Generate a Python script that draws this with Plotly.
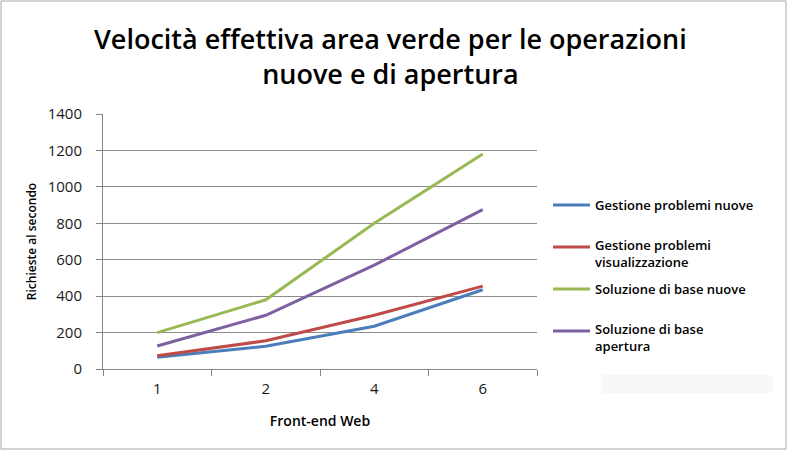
import plotly.graph_objects as go

categories = ["1", "2", "4", "6"]
series_names = ["Gestione problemi nuove", "Gestione problemi<br>visualizzazione",
                "Soluzione di base nuove", "Soluzione di base<br>apertura"]
gestione_nuove = [65, 125, 235, 435]
gestione_visual = [73, 155, 295, 455]
soluzione_nuove = [200, 380, 800, 1180]
soluzione_apertura = [126, 295, 570, 875]
y_ticks = [0, 200, 400, 600, 800, 1000, 1200, 1400]
colors = ["#4A7EBB", "#BE4B48", "#98B954", "#7D60A0"]

W, H = 788, 451
L, R, T, B = 103, 251, 114, 82
pw, ph = W - L - R, H - T - B

def px(x):
    return (x - L) / pw

def py(y):
    return (H - B - y) / ph

fig = go.Figure()
all_vals = [gestione_nuove, gestione_visual, soluzione_nuove, soluzione_apertura]
for i, (name, vals) in enumerate(zip(series_names, all_vals)):
    fig.add_trace(go.Scatter(x=categories, y=vals, mode="lines", name=name,
                             line=dict(color=colors[i], width=3), showlegend=False))

font_main = "Open Sans, Noto Sans, sans-serif"
fig.update_layout(
    width=W, height=H,
    margin=dict(l=L, r=R, t=T, b=B, autoexpand=False),
    paper_bgcolor="white", plot_bgcolor="white",
    font=dict(family=font_main, color="#000000", size=12),
    showlegend=False,
    xaxis=dict(type="category", range=[-0.5, 3.5], tickson="boundaries",
               ticks="outside", ticklen=6, tickcolor="#868686",
               showline=True, linecolor="#868686", linewidth=1,
               showgrid=False, zeroline=False, ticklabelstandoff=6,
               tickfont=dict(size=15, color="#1a1a1a"),
               title=dict(text="Front-end Web", font=dict(size=14, weight=600), standoff=19)),
    yaxis=dict(range=[0, 1400], tickvals=y_ticks, ticks="outside", ticklen=6,
               tickcolor="#868686", showline=True, linecolor="#868686", linewidth=1,
               showgrid=True, gridcolor="#8c8c8c", gridwidth=1, zeroline=False,
               ticklabelstandoff=11,
               tickfont=dict(size=15, color="#1a1a1a"),
               title=dict(text="Richieste al secondo", font=dict(size=12, weight=600), standoff=8)),
)

fig.add_annotation(text="Velocità effettiva area verde per le operazioni<br>nuove e di apertura",
                   xref="paper", yref="paper",
                   x=px(390), y=py(56), showarrow=False, xanchor="center", yanchor="middle",
                   font=dict(size=27, family=font_main, color="#000", weight=600))

# manual legend
legend_line_y = [205, 247, 289, 331]
legend_text_y = [205, 253, 289, 337]
for i, name in enumerate(series_names):
    fig.add_shape(type="line", xref="paper", yref="paper", x0=px(553), x1=px(590),
                  y0=py(legend_line_y[i]), y1=py(legend_line_y[i]),
                  line=dict(color=colors[i], width=3))
    fig.add_annotation(text=name, xref="paper", yref="paper", x=px(593), y=py(legend_text_y[i]),
                       showarrow=False, xanchor="left", yanchor="middle", align="left",
                       font=dict(size=13, family=font_main, color="#000", weight=600))

# chart border
fig.add_shape(type="rect", xref="paper", yref="paper", x0=px(1), x1=px(786), y0=py(449), y1=py(1),
              line=dict(color="#a6a6a6", width=1), layer="below")
# faint box at bottom right
fig.add_shape(type="rect", xref="paper", yref="paper", x0=px(601), x1=px(773), y0=py(393), y1=py(375),
              line=dict(width=0), fillcolor="#f7f8fa", layer="below")

fig.write_html("out.html")
